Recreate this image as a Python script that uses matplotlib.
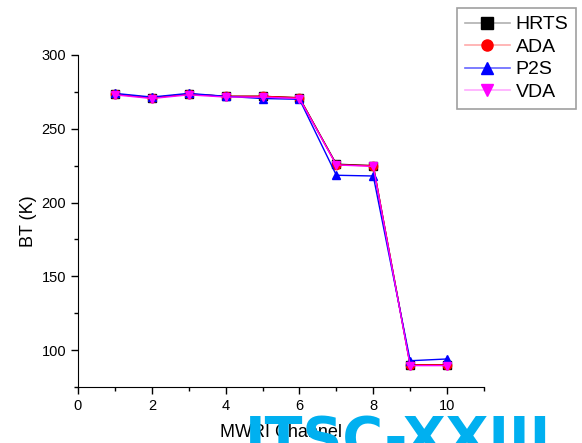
import matplotlib
matplotlib.use("Agg")
import matplotlib.pyplot as plt
from matplotlib.ticker import MultipleLocator
from matplotlib.lines import Line2D

plt.rcParams['font.family'] = ['Liberation Sans', 'DejaVu Sans']

channels = [1, 2, 3, 4, 5, 6, 7, 8, 9, 10]
hrts = [273.5, 271.0, 273.5, 272.0, 272.0, 271.0, 226.0, 225.0, 90.0, 90.0]
ada  = [273.5, 271.0, 273.5, 272.0, 272.0, 271.0, 225.5, 225.0, 90.0, 90.0]
p2s  = [274.0, 271.5, 274.0, 272.0, 270.5, 270.0, 218.5, 218.0, 92.8, 94.0]
vda  = [273.0, 270.5, 273.0, 271.5, 271.5, 270.5, 225.5, 224.5, 89.5, 89.5]

series = [("HRTS", hrts, "black", "s", "#b0b0b0"),
          ("ADA", ada, "red", "o", "#ffaaaa"),
          ("P2S", p2s, "blue", "^", "#6666ff"),
          ("VDA", vda, "magenta", "v", "#ffaaff")]

fig = plt.figure(figsize=(5.82, 4.43), dpi=100)
ax = fig.add_axes([78/582, 1-387/443, (484-78)/582, (387-55)/443])

for name, vals, col, mk, lc in series:
    ax.plot(channels, vals, color=col, marker=mk, markersize=6, linewidth=1, label=name)

ax.set_xlim(0, 11)
ax.set_ylim(75, 300)
ax.xaxis.set_major_locator(MultipleLocator(2))
ax.xaxis.set_minor_locator(MultipleLocator(1))
ax.set_yticks([100, 150, 200, 250, 300])
ax.yaxis.set_minor_locator(MultipleLocator(25))
ax.spines['top'].set_visible(False)
ax.spines['right'].set_visible(False)
ax.tick_params(which='major', direction='out', length=5, width=1, labelsize=10.5)
ax.tick_params(which='minor', direction='out', length=3, width=1)
ax.set_xlabel("MWRI Channel", fontsize=13, labelpad=8)
ax.set_ylabel("BT (K)", fontsize=13, labelpad=3)

leg_handles = [Line2D([], [], color=lc, linewidth=1.2, marker=mk, markersize=8,
                      markerfacecolor=col, markeredgecolor=col, label=name)
               for name, vals, col, mk, lc in series]
leg = fig.legend(handles=leg_handles, loc='upper right', bbox_to_anchor=(576/582, 1-8/443),
                 fontsize=14, frameon=True, fancybox=False, edgecolor='#888888',
                 handlelength=2.3, handletextpad=0.3, borderpad=0.4, labelspacing=0.25,
                 borderaxespad=0)
leg.get_frame().set_linewidth(1.2)

fig.text(245/582, -13/443, "ITSC-XXIII", color="#00B0F0", fontsize=40, fontweight='bold',
         family='DejaVu Sans', ha='left', va='baseline')

fig.savefig("out.png", dpi=100)
